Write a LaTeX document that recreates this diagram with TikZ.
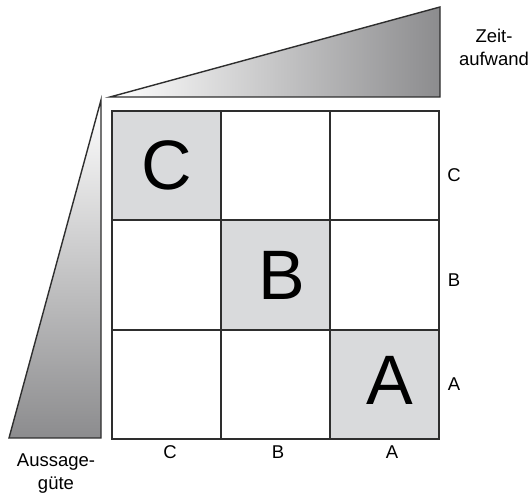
\documentclass[tikz,border=0pt]{standalone}
\usepackage{fontspec}
\setmainfont{Liberation Sans}
\definecolor{cellgray}{HTML}{D9DADC}
\definecolor{wedgegray}{HTML}{8C8C8E}
\definecolor{linegray}{HTML}{2E2E2E}
\begin{document}
\begin{tikzpicture}[x=1pt, y=-1pt, line width=1.4pt, draw=linegray,
  every node/.style={font=\fontsize{18.5}{23}\selectfont, inner sep=0pt, align=center},
  big/.style={font=\fontsize{70}{70}\selectfont}]
  \useasboundingbox (0,0) rectangle (531,494);
  % wedges
  \coordinate (T) at (110,97);
  \coordinate (U) at (440,7);
  \coordinate (V) at (440,97);
  \coordinate (L) at (101,100);
  \coordinate (M) at (101,438);
  \coordinate (N) at (9,438);
  \shade[left color=white, right color=wedgegray] (T)--(U)--(V)--cycle;
  \shade[top color=white, bottom color=wedgegray] (L)--(M)--(N)--cycle;
  \draw[line join=miter] (T)--(U)--(V)--cycle;
  \draw[line join=miter] (L)--(M)--(N)--cycle;
  % matrix
  \coordinate (P) at (112,111);
  \coordinate (Q) at (221,220);
  \coordinate (R) at (330,330);
  \coordinate (S) at (439,439);
  \fill[cellgray] (P) rectangle (Q) (Q) rectangle (R) (R) rectangle (S);
  \draw (P) rectangle (S);
  \draw (221,111)--(221,439) (330,111)--(330,439);
  \draw (112,220)--(439,220) (112,330)--(439,330);
  \node[big] (bigC) at (167,165) {C};
  \node[big] (bigB) at (282,275) {B};
  \node[big] (bigA) at (390,380) {A};
  % axis labels
  \node (colC) at (170,452) {C};
  \node (colB) at (278,452) {B};
  \node (colA) at (392,452) {A};
  \node (rowC) at (454,175) {C};
  \node (rowB) at (454,280) {B};
  \node (rowA) at (454,384) {A};
  \node (zeit) at (494,47) {Zeit-\\aufwand};
  \node (guete) at (56,474) {Aussage-\\güte};
\end{tikzpicture}
\end{document}
